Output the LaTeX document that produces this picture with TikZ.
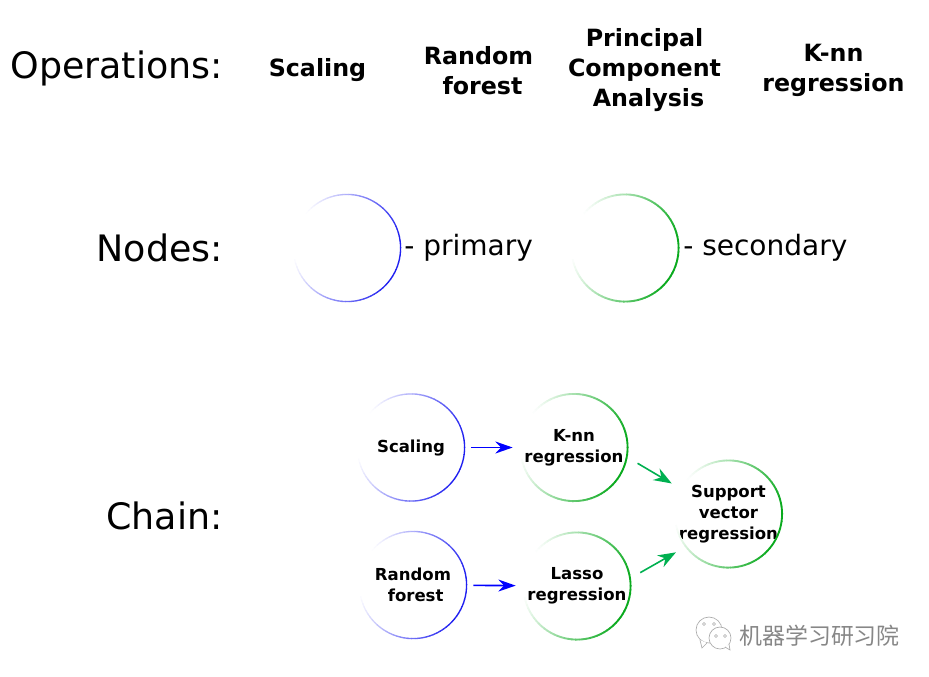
\documentclass[tikz,border=0pt]{standalone}
\usepackage{fontspec}
\setmainfont{DejaVu Sans}
\newfontfamily\cjkface{Noto Sans CJK SC}
\usetikzlibrary{arrows.meta}
\definecolor{primaryc}{RGB}{30,30,240}
\definecolor{secondaryc}{RGB}{10,170,30}
\definecolor{linkgreen}{RGB}{0,176,80}
\definecolor{markgray}{RGB}{135,135,135}
\tikzset{
  x=0.75pt, y=-0.75pt,
  ring/.style={circle, inner sep=0pt, outer sep=0pt, minimum size=80pt, align=center, font=\fontsize{12.4pt}{15.7pt}\selectfont\bfseries},
  heading/.style={anchor=east, inner sep=0pt, font=\fontsize{27.3pt}{30pt}\selectfont},
  opname/.style={align=center, font=\fontsize{17.8pt}{22.5pt}\selectfont\bfseries},
  legendtext/.style={anchor=west, inner sep=0pt, font=\fontsize{21pt}{24pt}\selectfont},
  bluelink/.style={draw=blue, line width=1.2pt, -{Stealth[length=13pt,width=9pt]}},
  greenlink/.style={draw=linkgreen, line width=1.2pt, -{Stealth[length=13.5pt,width=10pt]}},
  bubble/.style={draw=markgray!70, line width=0.5pt, fill=white},
}
% Ring whose stroke fades from near white on the left to full colour on the right
\newcommand{\fadering}[3]{%
  \foreach \a in {0,4,...,356}{%
    \pgfmathsetmacro{\mixv}{min(100,max(0,100*(0.5+0.55*cos(\a+2+15))))}
    \draw[#2!\mixv!white, line width=#3]
      ([shift={(\a:40.2pt)}]#1.center) arc[start angle=\a, delta angle=4.5, radius=40.2pt];
  }%
}
\begin{document}
\begin{tikzpicture}
\useasboundingbox (0,0) rectangle (929,676);

% Row headings
\node[heading] (hops) at (223,68) {Operations:};
\node[heading] (hnodes) at (223,248) {Nodes:};
\node[heading] (hchain) at (223,516) {Chain:};

% Operations row
\node[opname] (opscale) at (317.5,70.5) {Scaling};
\node[opname] (oprf) at (478.5,71) {Random\\\hspace*{6pt}forest};
\node[opname] (oppca) at (644.5,70.5) {Principal\\Component\\\hspace*{6pt}Analysis};
\node[opname] (opknn) at (833.5,70.5) {K-nn\\regression};

% Legend
\node[ring] (primary) at (347,248) {};
\node[ring] (secondary) at (625,248) {};
\fadering{primary}{primaryc}{1pt}
\fadering{secondary}{secondaryc}{1.4pt}
\node[legendtext] (ptext) at (404,248) {- primary};
\node[legendtext] (stext) at (683,248) {- secondary};

% Chain
\node[ring] (cscale) at (411,447.5) {Scaling};
\node[ring] (cknn) at (574,447.5) {K-nn\\regression};
\node[ring] (crf) at (413,585) {Random\\\hspace*{4pt}forest};
\node[ring] (classo) at (577,586) {Lasso\\regression};
\node[ring] (csvr) at (728.5,514) {Support\\vector\\regression};
\fadering{cscale}{primaryc}{1pt}
\fadering{crf}{primaryc}{1pt}
\fadering{cknn}{secondaryc}{1.4pt}
\fadering{classo}{secondaryc}{1.4pt}
\fadering{csvr}{secondaryc}{1.4pt}

\draw[bluelink, shorten <=5.2pt, shorten >=6pt] (cscale) -- (cknn);
\draw[bluelink, shorten <=5.2pt, shorten >=6pt] (crf) -- (classo);
\draw[greenlink, shorten <=9.6pt, shorten >=5.5pt] (cknn.-10) -- (csvr.152.5);
\draw[greenlink, shorten <=9pt, shorten >=6pt] (classo.8.9) -- (csvr.217.5);

% Wordmark with its two speech bubbles
\draw[bubble] (709,630) circle[radius=13];
\draw[bubble] (700,640) -- (702,648) -- (707,643);
\draw[markgray!70, line width=0.4pt] (704,624) circle[radius=1.6] (714,624) circle[radius=1.6];
\draw[bubble] (720,638) circle[radius=11];
\draw[bubble] (725,647) -- (730,650) -- (729,644);
\draw[markgray!70, line width=0.4pt] (716,636) circle[radius=1.4] (725,636) circle[radius=1.4];
\node[anchor=west, inner sep=0pt, text=white, font=\cjkface\fontsize{17.2pt}{20pt}\selectfont] (markshade) at (739.8,636.8) {机器学习研习院};
\node[anchor=west, inner sep=0pt, text=markgray, font=\cjkface\fontsize{17.2pt}{20pt}\selectfont] (mark) at (739,636) {机器学习研习院};
\end{tikzpicture}
\end{document}
